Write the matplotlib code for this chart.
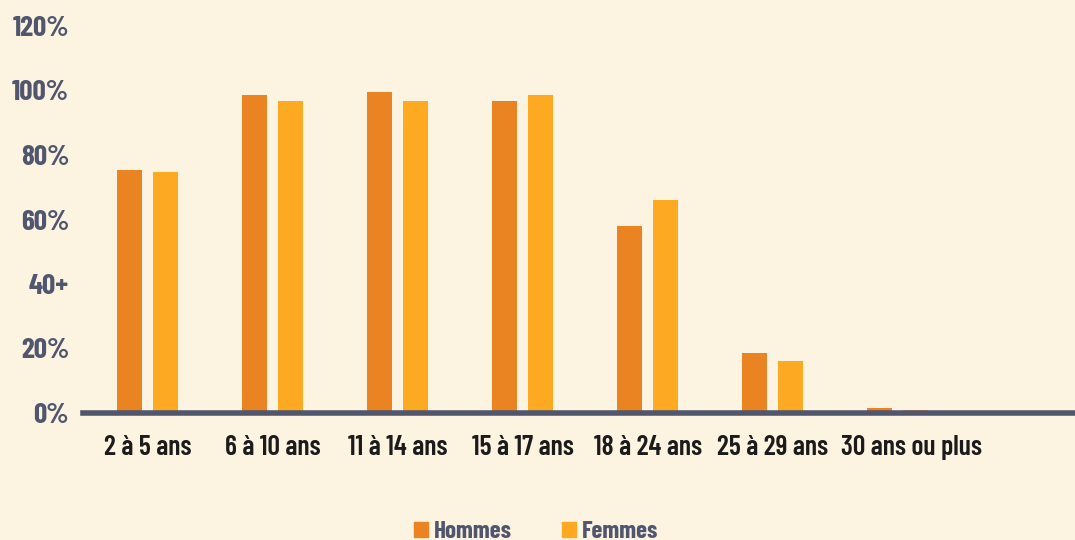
import matplotlib
matplotlib.use("Agg")
import matplotlib.pyplot as plt
import matplotlib.transforms as mtransforms
import numpy as np
from matplotlib.patches import Patch

categories = ["2 à 5 ans", "6 à 10 ans", "11 à 14 ans", "15 à 17 ans",
              "18 à 24 ans", "25 à 29 ans", "30 ans ou plus"]
hommes = [75.3, 98.6, 99.5, 96.7, 58.0, 18.6, 1.6]
femmes = [74.7, 96.7, 96.7, 98.6, 66.0, 16.1, 0.8]
ytick_values = [0, 20, 40, 60, 80, 100, 120]
ytick_labels = ["0%", "20%", "40+", "60%", "80%", "100%", "120%"]

BG = "#FDF3E1"
C_H = "#EA8321"
C_F = "#FDA922"
SLATE = "#50566E"

plt.rcParams['font.family'] = ['Barlow Condensed', 'DejaVu Sans']

fig = plt.figure(figsize=(10.75, 5.4), dpi=100, facecolor=BG)
ax = fig.add_axes([83/1075, 127/540, 1 - 83/1075, 387/540])
ax.set_facecolor(BG)

x = np.arange(len(categories))
w = 0.2
off = 0.144
ax.bar(x - off, hommes, w, color=C_H, zorder=2, label="Hommes")
ax.bar(x + off, femmes, w, color=C_F, zorder=2, label="Femmes")

ax.set_xlim(-0.52, 7.42)
ax.set_ylim(0, 120)
ax.set_yticks(ytick_values)
ax.set_yticklabels(ytick_labels, fontsize=21, fontweight=700, color=SLATE)
ax.set_xticks(x)
ax.set_xticklabels(categories, fontsize=20, fontweight=600, color="#1B1B1B")
ax.tick_params(axis='y', length=0, pad=10)
ax.tick_params(axis='x', length=0, pad=16)

# last label sits slightly to the right in the reference
last = ax.get_xticklabels()[-1]
last.set_transform(last.get_transform() + mtransforms.ScaledTranslation(14/100, 0, fig.dpi_scale_trans))

for s in ["top", "right", "left"]:
    ax.spines[s].set_visible(False)
ax.spines["bottom"].set_color(SLATE)
ax.spines["bottom"].set_linewidth(4)
ax.spines["bottom"].set_zorder(3)

handles = [Patch(color=C_H, label="Hommes"), Patch(color=C_F, label="Femmes")]
fig.legend(handles=handles, loc="center", bbox_to_anchor=(536/1075, 8/540), ncol=2,
           frameon=False, handlelength=0.55, handleheight=0.55, handletextpad=0.25,
           columnspacing=2.0, prop={'family': 'Barlow Condensed', 'size': 18, 'weight': 700},
           labelcolor=SLATE)

fig.savefig("out.png", dpi=100, facecolor=BG)
